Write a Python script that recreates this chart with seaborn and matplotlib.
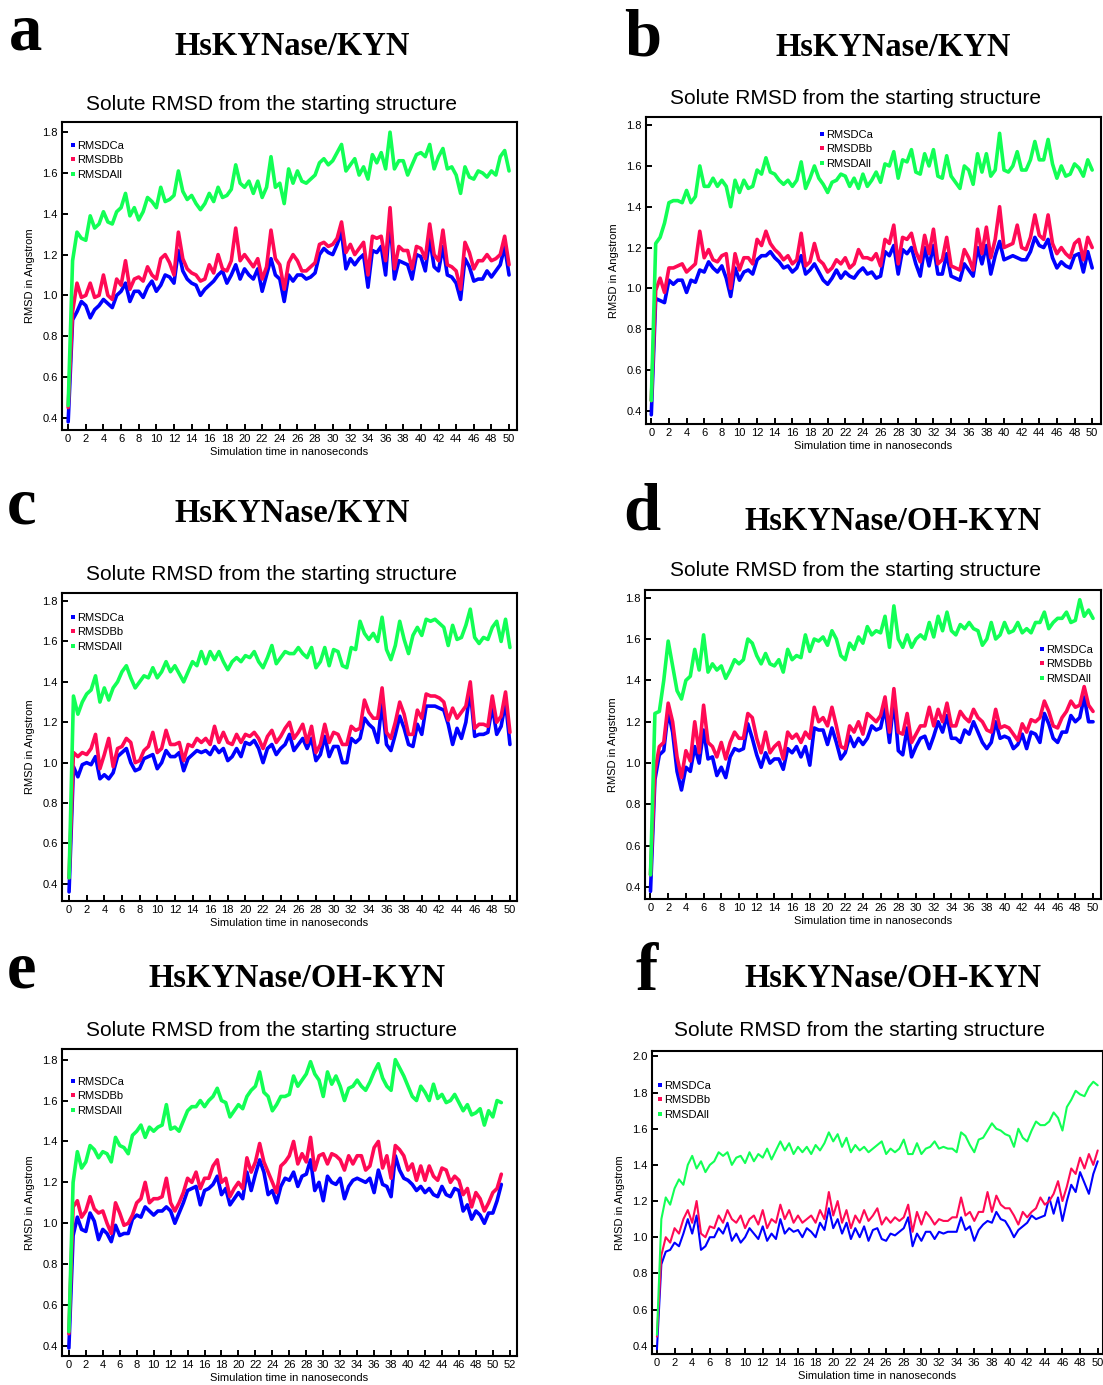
import numpy as np
import matplotlib.pyplot as plt
from matplotlib.lines import Line2D
import seaborn as sns

sns.set_style("ticks")
plt.rcParams['font.family'] = ['Liberation Sans', 'DejaVu Sans']
plt.rcParams['text.color'] = 'black'
plt.rcParams['axes.labelcolor'] = 'black'
plt.rcParams['xtick.color'] = 'black'
plt.rcParams['ytick.color'] = 'black'
plt.rcParams['axes.edgecolor'] = 'black'

# time axis (ns), sampled every 0.5 ns
time_50 = np.arange(0, 50.01, 0.5)
time_51 = np.arange(0, 51.01, 0.5)

# ---- panel a : HsKYNase/KYN ----
ca_a = [0.38, 0.88, 0.92, 0.97, 0.95, 0.89, 0.93, 0.95, 0.98, 0.96,
        0.94, 1.00, 1.02, 1.06, 0.97, 1.02, 1.02, 0.99, 1.04, 1.07,
        1.02, 1.05, 1.10, 1.09, 1.06, 1.22, 1.12, 1.08, 1.06, 1.05,
        1.00, 1.03, 1.05, 1.07, 1.10, 1.12, 1.06, 1.10, 1.15, 1.08,
        1.13, 1.10, 1.08, 1.13, 1.02, 1.10, 1.18, 1.10, 1.08, 0.97,
        1.10, 1.07, 1.10, 1.10, 1.08, 1.09, 1.11, 1.20, 1.23, 1.21,
        1.20, 1.25, 1.31, 1.13, 1.18, 1.15, 1.18, 1.20, 1.04, 1.22,
        1.21, 1.24, 1.10, 1.38, 1.08, 1.17, 1.16, 1.15, 1.08, 1.20,
        1.19, 1.12, 1.28, 1.14, 1.12, 1.24, 1.10, 1.09, 1.06, 0.98,
        1.18, 1.14, 1.07, 1.08, 1.08, 1.12, 1.09, 1.12, 1.15, 1.24,
        1.10]
bb_a = [0.45, 0.92, 1.06, 0.99, 1.00, 1.06, 0.99, 1.00, 1.10, 1.00,
        0.98, 1.08, 1.05, 1.17, 1.03, 1.08, 1.09, 1.07, 1.14, 1.10,
        1.08, 1.18, 1.20, 1.16, 1.10, 1.31, 1.18, 1.13, 1.11, 1.10,
        1.07, 1.08, 1.15, 1.11, 1.20, 1.13, 1.12, 1.17, 1.33, 1.17,
        1.20, 1.17, 1.14, 1.18, 1.08, 1.14, 1.32, 1.18, 1.15, 1.03,
        1.16, 1.20, 1.17, 1.12, 1.12, 1.14, 1.16, 1.25, 1.26, 1.24,
        1.25, 1.28, 1.36, 1.21, 1.25, 1.20, 1.23, 1.26, 1.10, 1.29,
        1.28, 1.29, 1.17, 1.43, 1.13, 1.24, 1.22, 1.22, 1.13, 1.24,
        1.23, 1.18, 1.35, 1.20, 1.17, 1.32, 1.15, 1.14, 1.12, 1.03,
        1.26, 1.21, 1.13, 1.17, 1.17, 1.20, 1.17, 1.18, 1.20, 1.29,
        1.15]
all_a = [0.46, 1.17, 1.31, 1.28, 1.27, 1.39, 1.33, 1.35, 1.41, 1.36,
         1.35, 1.41, 1.43, 1.50, 1.39, 1.43, 1.37, 1.41, 1.48, 1.46,
         1.43, 1.53, 1.46, 1.47, 1.49, 1.61, 1.51, 1.47, 1.49, 1.45,
         1.42, 1.45, 1.50, 1.46, 1.53, 1.48, 1.49, 1.52, 1.64, 1.55,
         1.53, 1.56, 1.50, 1.56, 1.48, 1.53, 1.68, 1.53, 1.55, 1.45,
         1.62, 1.55, 1.61, 1.56, 1.55, 1.57, 1.59, 1.65, 1.67, 1.64,
         1.66, 1.70, 1.74, 1.61, 1.64, 1.67, 1.59, 1.63, 1.57, 1.69,
         1.65, 1.70, 1.62, 1.80, 1.62, 1.66, 1.66, 1.59, 1.64, 1.69,
         1.70, 1.68, 1.74, 1.62, 1.68, 1.72, 1.62, 1.63, 1.59, 1.50,
         1.63, 1.58, 1.57, 1.61, 1.60, 1.58, 1.61, 1.59, 1.68, 1.71,
         1.61]

# ---- panel b : HsKYNase/KYN ----
ca_b = [0.38, 0.95, 0.94, 0.93, 1.04, 1.02, 1.04, 1.04, 0.98, 1.04,
        1.03, 1.09, 1.08, 1.13, 1.10, 1.08, 1.11, 1.05, 0.96, 1.10,
        1.04, 1.08, 1.09, 1.07, 1.14, 1.16, 1.16, 1.18, 1.15, 1.13,
        1.10, 1.11, 1.08, 1.10, 1.16, 1.07, 1.09, 1.12, 1.08, 1.04,
        1.02, 1.05, 1.09, 1.05, 1.08, 1.06, 1.05, 1.08, 1.10, 1.07,
        1.08, 1.05, 1.06, 1.18, 1.16, 1.21, 1.07, 1.19, 1.17, 1.20,
        1.12, 1.06, 1.20, 1.11, 1.21, 1.07, 1.07, 1.17, 1.06, 1.05,
        1.04, 1.12, 1.09, 1.06, 1.20, 1.12, 1.21, 1.07, 1.16, 1.23,
        1.14, 1.15, 1.16, 1.15, 1.14, 1.14, 1.18, 1.25, 1.21, 1.20,
        1.24, 1.15, 1.10, 1.13, 1.11, 1.10, 1.16, 1.17, 1.08, 1.18,
        1.10]
bb_b = [0.45, 0.99, 1.05, 0.98, 1.10, 1.10, 1.11, 1.12, 1.08, 1.10,
        1.12, 1.28, 1.15, 1.19, 1.14, 1.13, 1.16, 1.17, 1.00, 1.17,
        1.09, 1.15, 1.15, 1.12, 1.24, 1.21, 1.28, 1.22, 1.19, 1.17,
        1.14, 1.16, 1.12, 1.14, 1.27, 1.11, 1.13, 1.22, 1.14, 1.12,
        1.08, 1.10, 1.14, 1.12, 1.15, 1.10, 1.12, 1.19, 1.15, 1.15,
        1.14, 1.17, 1.11, 1.24, 1.22, 1.31, 1.12, 1.25, 1.24, 1.27,
        1.18, 1.13, 1.26, 1.17, 1.29, 1.12, 1.14, 1.25, 1.11, 1.10,
        1.09, 1.19, 1.15, 1.09, 1.29, 1.17, 1.30, 1.15, 1.24, 1.40,
        1.20, 1.21, 1.22, 1.31, 1.20, 1.19, 1.25, 1.36, 1.26, 1.24,
        1.36, 1.22, 1.17, 1.20, 1.17, 1.15, 1.22, 1.24, 1.14, 1.25,
        1.20]
all_b = [0.45, 1.22, 1.25, 1.32, 1.42, 1.43, 1.43, 1.42, 1.48, 1.42,
         1.45, 1.60, 1.50, 1.50, 1.54, 1.50, 1.53, 1.50, 1.40, 1.53,
         1.47, 1.53, 1.49, 1.50, 1.58, 1.56, 1.64, 1.57, 1.56, 1.53,
         1.51, 1.53, 1.50, 1.53, 1.62, 1.49, 1.54, 1.60, 1.54, 1.51,
         1.47, 1.52, 1.53, 1.56, 1.55, 1.50, 1.54, 1.49, 1.56, 1.50,
         1.53, 1.57, 1.52, 1.61, 1.60, 1.67, 1.54, 1.63, 1.62, 1.68,
         1.57, 1.56, 1.66, 1.60, 1.68, 1.55, 1.54, 1.65, 1.55, 1.52,
         1.49, 1.60, 1.58, 1.51, 1.66, 1.57, 1.66, 1.55, 1.58, 1.76,
         1.58, 1.57, 1.60, 1.67, 1.58, 1.58, 1.63, 1.72, 1.63, 1.63,
         1.73, 1.61, 1.54, 1.60, 1.55, 1.56, 1.61, 1.59, 1.55, 1.63,
         1.58]

# ---- panel c : HsKYNase/KYN ----
ca_c = [0.36, 0.98, 0.93, 0.99, 1.00, 0.99, 1.03, 0.92, 0.94, 0.92,
        0.95, 1.03, 1.05, 1.07, 1.00, 0.96, 0.97, 1.02, 1.03, 1.04,
        0.97, 1.00, 1.06, 1.03, 1.03, 1.05, 0.96, 1.02, 1.04, 1.06,
        1.05, 1.06, 1.04, 1.08, 1.05, 1.07, 1.01, 1.03, 1.07, 1.03,
        1.10, 1.09, 1.11, 1.07, 1.00, 1.07, 1.09, 1.04, 1.07, 1.09,
        1.14, 1.06, 1.09, 1.12, 1.07, 1.12, 1.01, 1.04, 1.13, 1.03,
        1.08, 1.08, 1.00, 1.00, 1.12, 1.10, 1.12, 1.22, 1.19, 1.17,
        1.10, 1.30, 1.09, 1.06, 1.14, 1.23, 1.17, 1.09, 1.08, 1.19,
        1.14, 1.28, 1.28, 1.28, 1.27, 1.26, 1.19, 1.09, 1.17, 1.12,
        1.20, 1.36, 1.13, 1.14, 1.14, 1.15, 1.28, 1.14, 1.18, 1.30,
        1.09]
bb_c = [0.43, 1.05, 1.03, 1.05, 1.04, 1.07, 1.14, 0.97, 1.04, 1.12,
        0.98, 1.07, 1.08, 1.12, 1.10, 1.00, 1.01, 1.06, 1.08, 1.15,
        1.05, 1.07, 1.16, 1.09, 1.09, 1.10, 1.01, 1.09, 1.08, 1.12,
        1.10, 1.12, 1.09, 1.18, 1.10, 1.15, 1.10, 1.09, 1.14, 1.10,
        1.14, 1.13, 1.15, 1.12, 1.07, 1.13, 1.16, 1.10, 1.13, 1.17,
        1.20, 1.12, 1.15, 1.19, 1.10, 1.18, 1.05, 1.09, 1.19, 1.10,
        1.15, 1.14, 1.09, 1.09, 1.18, 1.16, 1.17, 1.31, 1.25, 1.22,
        1.22, 1.37, 1.15, 1.12, 1.20, 1.30, 1.24, 1.14, 1.14, 1.26,
        1.22, 1.34, 1.33, 1.33, 1.32, 1.30, 1.21, 1.27, 1.22, 1.25,
        1.28, 1.40, 1.17, 1.19, 1.19, 1.18, 1.33, 1.20, 1.23, 1.35,
        1.15]
all_c = [0.43, 1.33, 1.24, 1.30, 1.34, 1.36, 1.43, 1.30, 1.37, 1.31,
         1.37, 1.40, 1.45, 1.48, 1.42, 1.37, 1.40, 1.43, 1.42, 1.47,
         1.42, 1.45, 1.50, 1.45, 1.48, 1.44, 1.40, 1.45, 1.50, 1.48,
         1.55, 1.49, 1.55, 1.51, 1.55, 1.50, 1.46, 1.50, 1.52, 1.50,
         1.53, 1.52, 1.55, 1.50, 1.47, 1.52, 1.58, 1.49, 1.52, 1.55,
         1.54, 1.54, 1.57, 1.54, 1.52, 1.57, 1.47, 1.50, 1.57, 1.48,
         1.56, 1.55, 1.48, 1.47, 1.57, 1.56, 1.70, 1.64, 1.61, 1.64,
         1.60, 1.72, 1.56, 1.51, 1.58, 1.70, 1.61, 1.54, 1.63, 1.67,
         1.63, 1.71, 1.70, 1.71, 1.69, 1.67, 1.58, 1.68, 1.61, 1.62,
         1.68, 1.76, 1.62, 1.59, 1.62, 1.61, 1.67, 1.70, 1.60, 1.71,
         1.57]

# ---- panel d : HsKYNase/OH-KYN ----
ca_d = [0.38, 0.92, 1.04, 1.06, 1.25, 1.15, 0.96, 0.87, 0.98, 0.96,
        1.08, 1.00, 1.16, 1.02, 1.03, 0.94, 0.98, 0.93, 1.03, 1.07,
        1.06, 1.07, 1.19, 1.12, 1.04, 0.98, 1.05, 1.00, 1.02, 1.02,
        0.97, 1.07, 1.05, 1.08, 1.03, 1.08, 0.99, 1.17, 1.16, 1.16,
        1.09, 1.17, 1.10, 1.02, 1.05, 1.13, 1.08, 1.12, 1.09, 1.12,
        1.18, 1.16, 1.17, 1.27, 1.10, 1.31, 1.06, 1.04, 1.17, 1.03,
        1.08, 1.12, 1.13, 1.07, 1.13, 1.20, 1.15, 1.23, 1.12, 1.12,
        1.10, 1.16, 1.14, 1.20, 1.15, 1.10, 1.07, 1.10, 1.20, 1.12,
        1.13, 1.12, 1.07, 1.09, 1.14, 1.07, 1.15, 1.14, 1.10, 1.24,
        1.19, 1.12, 1.10, 1.15, 1.15, 1.23, 1.20, 1.22, 1.32, 1.20,
        1.20]
bb_d = [0.46, 0.96, 1.08, 1.10, 1.29, 1.20, 1.03, 0.93, 1.06, 1.01,
        1.20, 1.05, 1.28, 1.10, 1.08, 1.03, 1.10, 1.02, 1.10, 1.15,
        1.12, 1.12, 1.24, 1.22, 1.12, 1.05, 1.15, 1.05, 1.08, 1.10,
        1.02, 1.15, 1.12, 1.14, 1.10, 1.15, 1.12, 1.27, 1.20, 1.22,
        1.18, 1.27, 1.18, 1.08, 1.07, 1.18, 1.15, 1.20, 1.14, 1.24,
        1.22, 1.20, 1.23, 1.32, 1.15, 1.36, 1.15, 1.14, 1.24, 1.10,
        1.14, 1.18, 1.18, 1.27, 1.18, 1.26, 1.20, 1.29, 1.18, 1.18,
        1.25, 1.22, 1.20, 1.26, 1.22, 1.20, 1.16, 1.15, 1.26, 1.17,
        1.18, 1.17, 1.14, 1.11, 1.19, 1.15, 1.21, 1.20, 1.22, 1.30,
        1.25, 1.18, 1.17, 1.22, 1.25, 1.30, 1.27, 1.28, 1.37, 1.28,
        1.25]
all_d = [0.46, 1.24, 1.25, 1.40, 1.59, 1.47, 1.35, 1.31, 1.40, 1.42,
         1.55, 1.45, 1.62, 1.44, 1.48, 1.45, 1.47, 1.41, 1.45, 1.50,
         1.48, 1.50, 1.60, 1.58, 1.52, 1.48, 1.53, 1.48, 1.47, 1.50,
         1.44, 1.55, 1.50, 1.52, 1.51, 1.62, 1.54, 1.60, 1.59, 1.61,
         1.57, 1.64, 1.60, 1.52, 1.50, 1.58, 1.55, 1.61, 1.58, 1.66,
         1.62, 1.64, 1.63, 1.71, 1.56, 1.76, 1.60, 1.56, 1.62, 1.56,
         1.60, 1.62, 1.60, 1.68, 1.61, 1.71, 1.64, 1.73, 1.64, 1.62,
         1.67, 1.65, 1.68, 1.65, 1.64, 1.57, 1.60, 1.68, 1.60, 1.62,
         1.68, 1.63, 1.64, 1.68, 1.63, 1.65, 1.63, 1.68, 1.68, 1.73,
         1.65, 1.68, 1.70, 1.70, 1.73, 1.68, 1.69, 1.79, 1.71, 1.74,
         1.70]

# ---- panel e : HsKYNase/OH-KYN (runs to 51 ns) ----
ca_e = [0.39, 0.94, 1.03, 0.97, 0.96, 1.05, 1.01, 0.92, 0.97, 0.95,
        0.91, 0.99, 0.94, 0.95, 0.95, 1.02, 1.04, 1.03, 1.08, 1.06,
        1.04, 1.06, 1.06, 1.08, 1.06, 1.00, 1.05, 1.10, 1.16, 1.17,
        1.18, 1.09, 1.16, 1.17, 1.19, 1.23, 1.14, 1.17, 1.09, 1.12,
        1.15, 1.12, 1.25, 1.16, 1.24, 1.31, 1.25, 1.14, 1.16, 1.10,
        1.18, 1.22, 1.21, 1.25, 1.18, 1.23, 1.24, 1.31, 1.16, 1.20,
        1.11, 1.23, 1.20, 1.19, 1.22, 1.12, 1.18, 1.21, 1.22, 1.21,
        1.20, 1.22, 1.15, 1.26, 1.19, 1.18, 1.13, 1.33, 1.26, 1.22,
        1.21, 1.19, 1.16, 1.18, 1.15, 1.17, 1.14, 1.13, 1.18, 1.14,
        1.13, 1.17, 1.16, 1.06, 1.09, 1.02, 1.06, 1.04, 1.00, 1.05,
        1.05, 1.11, 1.19]
bb_e = [0.46, 1.08, 1.11, 1.03, 1.06, 1.13, 1.07, 1.05, 1.06, 1.00,
        0.95, 1.10, 1.05, 0.99, 1.00, 1.04, 1.10, 1.12, 1.20, 1.10,
        1.12, 1.12, 1.13, 1.22, 1.10, 1.06, 1.10, 1.15, 1.22, 1.20,
        1.25, 1.17, 1.22, 1.22, 1.28, 1.31, 1.20, 1.22, 1.13, 1.17,
        1.20, 1.17, 1.32, 1.25, 1.30, 1.39, 1.30, 1.25, 1.20, 1.15,
        1.28, 1.30, 1.33, 1.40, 1.29, 1.34, 1.30, 1.42, 1.26, 1.33,
        1.34, 1.29, 1.34, 1.33, 1.31, 1.26, 1.33, 1.29, 1.33, 1.33,
        1.26, 1.28, 1.37, 1.40, 1.27, 1.33, 1.22, 1.38, 1.36, 1.33,
        1.26, 1.29, 1.21, 1.28, 1.21, 1.28, 1.23, 1.21, 1.27, 1.26,
        1.20, 1.23, 1.21, 1.14, 1.17, 1.08, 1.15, 1.12, 1.06, 1.10,
        1.15, 1.17, 1.24]
all_e = [0.47, 1.20, 1.35, 1.27, 1.30, 1.38, 1.36, 1.32, 1.35, 1.34,
         1.30, 1.42, 1.38, 1.37, 1.34, 1.43, 1.45, 1.48, 1.42, 1.47,
         1.45, 1.47, 1.48, 1.58, 1.46, 1.47, 1.45, 1.50, 1.55, 1.57,
         1.57, 1.60, 1.57, 1.60, 1.62, 1.66, 1.60, 1.59, 1.52, 1.55,
         1.58, 1.56, 1.62, 1.65, 1.67, 1.74, 1.64, 1.62, 1.55, 1.58,
         1.62, 1.62, 1.63, 1.72, 1.67, 1.70, 1.73, 1.79, 1.73, 1.70,
         1.62, 1.74, 1.68, 1.72, 1.67, 1.60, 1.66, 1.67, 1.70, 1.67,
         1.65, 1.69, 1.74, 1.78, 1.71, 1.67, 1.65, 1.80, 1.76, 1.72,
         1.67, 1.62, 1.60, 1.67, 1.64, 1.60, 1.68, 1.61, 1.63, 1.59,
         1.60, 1.63, 1.59, 1.55, 1.58, 1.53, 1.54, 1.56, 1.48, 1.55,
         1.52, 1.60, 1.59]

# ---- panel f : HsKYNase/OH-KYN ----
ca_f = [0.38, 0.85, 0.92, 0.93, 0.97, 0.95, 1.02, 1.10, 1.02, 1.12,
        0.93, 0.95, 1.00, 1.00, 1.05, 1.02, 1.08, 0.98, 1.02, 0.97,
        1.00, 1.05, 1.02, 0.99, 1.06, 0.98, 1.02, 0.99, 1.10, 1.02,
        1.05, 1.03, 1.04, 1.00, 1.05, 1.03, 1.00, 1.08, 1.04, 1.16,
        1.05, 1.10, 1.02, 1.08, 0.99, 1.05, 1.00, 1.06, 0.98, 1.04,
        1.05, 0.99, 0.98, 1.02, 1.01, 1.03, 1.05, 1.11, 0.95, 1.02,
        0.98, 1.03, 1.03, 0.99, 1.03, 1.02, 1.03, 1.03, 1.03, 1.11,
        1.04, 1.06, 0.98, 1.04, 1.07, 1.09, 1.08, 1.14, 1.10, 1.09,
        1.05, 1.00, 1.04, 1.06, 1.08, 1.12, 1.10, 1.11, 1.12, 1.22,
        1.13, 1.22, 1.09, 1.20, 1.29, 1.25, 1.36, 1.30, 1.24, 1.35,
        1.42]
bb_f = [0.45, 0.90, 1.00, 0.97, 1.05, 1.02, 1.10, 1.15, 1.08, 1.20,
        1.02, 1.00, 1.06, 1.05, 1.12, 1.08, 1.15, 1.10, 1.08, 1.12,
        1.05, 1.10, 1.12, 1.07, 1.15, 1.05, 1.10, 1.08, 1.18, 1.10,
        1.15, 1.08, 1.12, 1.08, 1.10, 1.12, 1.08, 1.15, 1.10, 1.25,
        1.12, 1.20, 1.08, 1.15, 1.05, 1.12, 1.08, 1.15, 1.09, 1.12,
        1.16, 1.07, 1.11, 1.08, 1.11, 1.09, 1.11, 1.18, 1.03, 1.14,
        1.07, 1.14, 1.11, 1.07, 1.10, 1.09, 1.09, 1.11, 1.11, 1.22,
        1.12, 1.14, 1.09, 1.14, 1.14, 1.25, 1.14, 1.23, 1.18, 1.16,
        1.16, 1.12, 1.07, 1.14, 1.11, 1.14, 1.16, 1.22, 1.18, 1.20,
        1.24, 1.31, 1.20, 1.28, 1.38, 1.35, 1.44, 1.38, 1.46, 1.40,
        1.48]
all_f = [0.46, 1.10, 1.22, 1.18, 1.27, 1.32, 1.29, 1.40, 1.45, 1.38,
         1.42, 1.36, 1.40, 1.42, 1.47, 1.45, 1.47, 1.40, 1.44, 1.45,
         1.41, 1.47, 1.42, 1.46, 1.44, 1.49, 1.43, 1.48, 1.53, 1.48,
         1.52, 1.46, 1.50, 1.47, 1.50, 1.46, 1.51, 1.48, 1.52, 1.58,
         1.53, 1.57, 1.50, 1.55, 1.47, 1.51, 1.48, 1.50, 1.47, 1.49,
         1.51, 1.53, 1.46, 1.49, 1.47, 1.49, 1.54, 1.46, 1.46, 1.52,
         1.46, 1.49, 1.50, 1.53, 1.49, 1.50, 1.49, 1.49, 1.47, 1.58,
         1.56, 1.51, 1.47, 1.54, 1.55, 1.59, 1.63, 1.60, 1.59, 1.57,
         1.56, 1.50, 1.60, 1.55, 1.53, 1.59, 1.64, 1.62, 1.62, 1.64,
         1.69, 1.66, 1.59, 1.72, 1.76, 1.81, 1.79, 1.78, 1.83, 1.86,
         1.84]

series_names = ["RMSDCa", "RMSDBb", "RMSDAll"]
series_colors = ["#0000ff", "#ff0a55", "#12ff55"]

W, H = 1103, 1385
fig = plt.figure(figsize=(W / 100, H / 100), dpi=100)

# layout in pixels: axes box (l, t, r, b), limits, text anchors
panels = [
    dict(letter="a", title="HsKYNase/KYN", t=time_50, data=(ca_a, bb_a, all_a),
         box=(62, 122, 517, 430), xlim=(-0.7, 50.9), ylim=(0.34, 1.85), xmax=50, ymax=1.8,
         letter_xy=(9, 50), title_xy=(292, 55), sub_xy=(271, 104), leg_xy=(65, 135), lw=2.6),
    dict(letter="b", title="HsKYNase/KYN", t=time_50, data=(ca_b, bb_b, all_b),
         box=(646, 117, 1101, 424), xlim=(-0.6, 51.0), ylim=(0.335, 1.84), xmax=50, ymax=1.8,
         letter_xy=(624, 56), title_xy=(893, 56), sub_xy=(855, 98), leg_xy=(814, 124), lw=2.6),
    dict(letter="c", title="HsKYNase/KYN", t=time_50, data=(ca_c, bb_c, all_c),
         box=(62, 593, 517, 901), xlim=(-0.8, 50.8), ylim=(0.315, 1.84), xmax=50, ymax=1.8,
         letter_xy=(7, 523), title_xy=(292, 522), sub_xy=(271, 575), leg_xy=(65, 607), lw=2.6),
    dict(letter="d", title="HsKYNase/OH-KYN", t=time_50, data=(ca_d, bb_d, all_d),
         box=(645, 590, 1101, 899), xlim=(-0.62, 50.9), ylim=(0.343, 1.837), xmax=50, ymax=1.8,
         letter_xy=(623, 530), title_xy=(893, 530), sub_xy=(855, 571), leg_xy=(1034, 639), lw=2.6),
    dict(letter="e", title="HsKYNase/OH-KYN", t=time_51, data=(ca_e, bb_e, all_e),
         box=(62, 1049, 517, 1356), xlim=(-0.81, 52.85), ylim=(0.351, 1.852), xmax=52, ymax=1.8,
         letter_xy=(7, 988), title_xy=(297, 987), sub_xy=(271, 1030), leg_xy=(65, 1071), lw=2.6),
    dict(letter="f", title="HsKYNase/OH-KYN", t=time_50, data=(ca_f, bb_f, all_f),
         box=(652, 1051, 1103, 1354), xlim=(-0.56, 50.6), ylim=(0.354, 2.03), xmax=50, ymax=2.0,
         letter_xy=(636, 990), title_xy=(893, 987), sub_xy=(859, 1030), leg_xy=(652, 1075), lw=1.5),
]

for p in panels:
    l, t, r, b = p["box"]
    ax = fig.add_axes([l / W, 1 - b / H, (r - l) / W, (b - t) / H])
    for vals, col in zip(p["data"], series_colors):
        sns.lineplot(x=p["t"], y=vals, ax=ax, color=col, lw=p["lw"], legend=False)
    ax.set_xlim(*p["xlim"])
    ax.set_ylim(*p["ylim"])
    ax.set_xticks(np.arange(0, p["xmax"] + 1, 2))
    yt = np.arange(0.4, p["ymax"] + 0.01, 0.2)
    ax.set_yticks(yt)
    ax.set_yticklabels([f"{v:.1f}" for v in yt])
    ax.tick_params(direction="in", length=4, width=1.4, labelsize=8, pad=3,
                   colors="black")
    for s in ax.spines.values():
        s.set_linewidth(1.5)
        s.set_color("black")
        s.set_visible(True)
    ax.set_xlabel("Simulation time in nanoseconds", fontsize=8, labelpad=2)
    ax.set_ylabel("RMSD in Angstrom", fontsize=8, labelpad=5)

    handles = [Line2D([], [], ls="", marker="s", markersize=3.2, color=c,
                      markeredgewidth=0) for c in series_colors]
    lx, ly = p["leg_xy"]
    ax.legend(handles, series_names, loc="upper left", bbox_to_anchor=(lx / W, 1 - ly / H),
              bbox_transform=fig.transFigure, frameon=False, fontsize=8,
              handlelength=0.4, handletextpad=0.2, labelspacing=0.42, borderpad=0)

    fig.text(p["letter_xy"][0] / W, 1 - p["letter_xy"][1] / H, p["letter"],
             family=["Liberation Serif", "DejaVu Serif"], weight="bold", fontsize=48,
             ha="left", va="baseline", color="black")
    fig.text(p["title_xy"][0] / W, 1 - p["title_xy"][1] / H, p["title"],
             family=["Liberation Serif", "DejaVu Serif"], weight="bold", fontsize=23.5,
             ha="center", va="baseline", color="black")
    fig.text(p["sub_xy"][0] / W, 1 - p["sub_xy"][1] / H,
             "Solute RMSD from the starting structure", fontsize=15,
             ha="center", va="center", color="black")

fig.savefig("out.png", dpi=100, facecolor="white")
